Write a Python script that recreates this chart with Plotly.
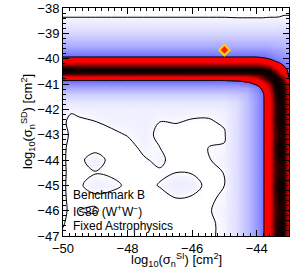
import plotly.graph_objects as go

# grid coordinates (log10 cross sections)
x_si = [-50, -49.75, -49.5, -49, -48.5, -48, -47.5, -47, -46.5, -46, -45.5, -45,
        -44.6, -44.3, -44.0, -43.8, -43.6, -43.45, -43.3, -43.15, -43.0]
y_sd = [-47, -46.5, -46, -45.5, -45, -44.5, -44, -43.5, -43, -42.5, -42, -41.7,
        -41.4, -41.15, -40.95, -40.8, -40.6, -40.45, -40.3, -40.1, -39.95, -39.75,
        -39.5, -39.2, -38.9, -38.6, -38.35, -38.0]

# likelihood values (rows follow y_sd, columns follow x_si)
like = [
    [0.04, 0.03, 0.03, 0.03, 0.03, 0.03, 0.035, 0.04, 0.045, 0.035, 0.045, 0.056, 0.13, 0.22, 0.36, 0.47, 0.72, 0.88, 0.97, 0.93, 0.72],
    [0.055, 0.03, 0.035, 0.035, 0.03, 0.03, 0.035, 0.04, 0.04, 0.03, 0.045, 0.056, 0.13, 0.22, 0.36, 0.47, 0.72, 0.88, 0.99, 0.95, 0.72],
    [0.06, 0.04, 0.05, 0.054, 0.035, 0.035, 0.045, 0.035, 0.035, 0.032, 0.048, 0.058, 0.13, 0.22, 0.36, 0.47, 0.72, 0.87, 0.95, 0.93, 0.72],
    [0.06, 0.035, 0.04, 0.042, 0.04, 0.035, 0.035, 0.04, 0.05, 0.046, 0.045, 0.055, 0.13, 0.22, 0.36, 0.47, 0.72, 0.88, 0.97, 0.94, 0.72],
    [0.06, 0.03, 0.045, 0.066, 0.058, 0.045, 0.04, 0.052, 0.075, 0.065, 0.04, 0.05, 0.13, 0.22, 0.36, 0.47, 0.72, 0.89, 1.0, 0.96, 0.72],
    [0.06, 0.035, 0.04, 0.048, 0.045, 0.038, 0.035, 0.045, 0.05, 0.048, 0.04, 0.051, 0.13, 0.22, 0.36, 0.47, 0.72, 0.87, 0.95, 0.93, 0.72],
    [0.06, 0.03, 0.042, 0.066, 0.04, 0.03, 0.046, 0.058, 0.035, 0.033, 0.048, 0.06, 0.13, 0.22, 0.36, 0.47, 0.72, 0.88, 0.97, 0.94, 0.72],
    [0.06, 0.035, 0.035, 0.038, 0.032, 0.038, 0.058, 0.05, 0.03, 0.028, 0.05, 0.053, 0.13, 0.22, 0.36, 0.47, 0.72, 0.89, 1.0, 0.96, 0.72],
    [0.06, 0.045, 0.035, 0.035, 0.042, 0.052, 0.062, 0.042, 0.035, 0.03, 0.04, 0.045, 0.13, 0.22, 0.36, 0.47, 0.72, 0.87, 0.95, 0.93, 0.72],
    [0.06, 0.035, 0.042, 0.049, 0.058, 0.06, 0.065, 0.05, 0.052, 0.046, 0.045, 0.056, 0.13, 0.22, 0.36, 0.47, 0.72, 0.88, 0.98, 0.95, 0.72],
    [0.062, 0.058, 0.062, 0.065, 0.065, 0.065, 0.066, 0.065, 0.065, 0.062, 0.062, 0.07, 0.13, 0.22, 0.36, 0.47, 0.72, 0.88, 0.97, 0.94, 0.72],
    [0.1, 0.1, 0.1, 0.1, 0.1, 0.1, 0.1, 0.1, 0.1, 0.1, 0.1, 0.1, 0.14, 0.22, 0.36, 0.47, 0.72, 0.88, 0.98, 0.94, 0.72],
    [0.18, 0.18, 0.18, 0.18, 0.18, 0.18, 0.18, 0.18, 0.18, 0.18, 0.18, 0.18, 0.2, 0.25, 0.37, 0.48, 0.74, 0.9, 1.0, 0.94, 0.73],
    [0.3, 0.3, 0.3, 0.3, 0.3, 0.3, 0.3, 0.3, 0.3, 0.3, 0.3, 0.3, 0.3, 0.32, 0.42, 0.56, 0.8, 0.93, 1.0, 0.93, 0.74],
    [0.42, 0.42, 0.42, 0.42, 0.42, 0.42, 0.42, 0.42, 0.42, 0.42, 0.42, 0.42, 0.43, 0.47, 0.57, 0.7, 0.88, 0.97, 1.0, 0.9, 0.7],
    [0.56, 0.56, 0.56, 0.56, 0.56, 0.56, 0.56, 0.56, 0.56, 0.56, 0.56, 0.56, 0.58, 0.62, 0.72, 0.85, 0.95, 1.0, 0.97, 0.85, 0.52],
    [0.9, 0.9, 0.9, 0.9, 0.9, 0.9, 0.9, 0.9, 0.9, 0.9, 0.9, 0.9, 0.9, 0.9, 0.92, 0.95, 1.0, 0.95, 0.85, 0.7, 0.45],
    [1.0, 1.0, 0.98, 1.0, 1.0, 0.99, 1.0, 1.0, 1.0, 0.99, 1.0, 1.0, 1.0, 1.0, 1.0, 0.98, 0.95, 0.85, 0.72, 0.6, 0.44],
    [0.88, 0.88, 0.88, 0.88, 0.88, 0.88, 0.88, 0.88, 0.88, 0.88, 0.88, 0.88, 0.88, 0.88, 0.88, 0.86, 0.8, 0.7, 0.6, 0.5, 0.42],
    [0.68, 0.68, 0.68, 0.68, 0.68, 0.68, 0.68, 0.68, 0.68, 0.68, 0.68, 0.68, 0.68, 0.68, 0.68, 0.64, 0.57, 0.51, 0.46, 0.42, 0.38],
    [0.51, 0.51, 0.51, 0.51, 0.51, 0.51, 0.51, 0.51, 0.51, 0.51, 0.51, 0.51, 0.51, 0.51, 0.51, 0.49, 0.45, 0.42, 0.39, 0.36, 0.33],
    [0.4, 0.4, 0.4, 0.4, 0.4, 0.4, 0.4, 0.4, 0.4, 0.4, 0.4, 0.4, 0.4, 0.4, 0.4, 0.4, 0.38, 0.36, 0.34, 0.32, 0.3],
    [0.29, 0.29, 0.29, 0.29, 0.29, 0.29, 0.29, 0.29, 0.29, 0.29, 0.29, 0.29, 0.29, 0.29, 0.29, 0.29, 0.28, 0.27, 0.26, 0.25, 0.25],
    [0.2, 0.2, 0.2, 0.2, 0.2, 0.2, 0.2, 0.2, 0.2, 0.2, 0.2, 0.2, 0.2, 0.2, 0.2, 0.2, 0.2, 0.2, 0.2, 0.2, 0.2],
    [0.13, 0.13, 0.13, 0.13, 0.13, 0.13, 0.13, 0.13, 0.13, 0.13, 0.13, 0.13, 0.13, 0.13, 0.13, 0.13, 0.13, 0.13, 0.14, 0.14, 0.14],
    [0.08, 0.08, 0.08, 0.08, 0.08, 0.08, 0.08, 0.08, 0.08, 0.08, 0.08, 0.08, 0.08, 0.08, 0.08, 0.08, 0.08, 0.08, 0.085, 0.085, 0.085],
    [0.048, 0.048, 0.048, 0.048, 0.048, 0.048, 0.048, 0.048, 0.048, 0.048, 0.048, 0.048, 0.045, 0.045, 0.045, 0.045, 0.048, 0.048, 0.05, 0.052, 0.052],
    [0.03, 0.03, 0.03, 0.03, 0.03, 0.03, 0.03, 0.03, 0.03, 0.03, 0.03, 0.03, 0.03, 0.03, 0.03, 0.03, 0.035, 0.035, 0.04, 0.04, 0.04],
]

contour_levels = [0.05, 0.5]
benchmark_x = [-45.0]
benchmark_y = [-39.66]
label_lines = ["Benchmark B", "IC86 (W<sup>+</sup>W<sup>\u2212</sup>)", "Fixed Astrophysics"]
label_y = [-45.40, -46.01, -46.61]
x_title = "log<sub>10</sub>(\u03c3<sub>n</sub><sup>SI</sup>) [cm<sup>2</sup>]"
y_title = "log<sub>10</sub>(\u03c3<sub>n</sub><sup>SD</sup>) [cm<sup>2</sup>]"

cscale = [
    [0.0, '#ffffff'], [0.045, '#ffffff'], [0.06, '#f1f1ff'], [0.12, '#e0e0ff'],
    [0.2, '#c6c6ff'], [0.3, '#a8a8ff'], [0.4, '#8a8aff'], [0.49, '#7070ff'],
    [0.5, '#ff0000'], [0.72, '#f20000'], [0.84, '#900000'], [0.94, '#200000'],
    [1.0, '#000000'],
]

fig = go.Figure()
fig.add_trace(go.Heatmap(x=x_si, y=y_sd, z=like, zmin=0, zmax=1, colorscale=cscale,
                         zsmooth='best', showscale=False, hoverinfo='skip'))
fig.add_trace(go.Contour(x=x_si, y=y_sd, z=like, showscale=False, hoverinfo='skip',
                         autocontour=False,
                         contours=dict(start=contour_levels[0], end=contour_levels[1],
                                       size=contour_levels[1] - contour_levels[0],
                                       coloring='none'),
                         line=dict(color='black', width=1, smoothing=1)))
fig.add_trace(go.Scatter(x=benchmark_x, y=benchmark_y, mode='markers', hoverinfo='skip',
                         marker=dict(symbol='diamond', size=8, color='#ff2000',
                                     line=dict(color='#ffd000', width=2))))

font_family = "Liberation Sans, Arial, sans-serif"
for txt, yy in zip(label_lines, label_y):
    fig.add_annotation(x=-49.74, y=yy, xref='x', yref='y', text=txt, showarrow=False,
                       xanchor='left', yanchor='middle',
                       font=dict(size=12, color='black', family=font_family))

fig.add_annotation(x=0.5, y=0, xref='paper', yref='paper', yshift=-24, text=x_title,
                   showarrow=False, xanchor='center', yanchor='middle',
                   font=dict(size=13, color='black', family=font_family))
fig.add_annotation(x=0, y=0.5, xref='paper', yref='paper', xshift=-35, text=y_title,
                   showarrow=False, xanchor='center', yanchor='middle', textangle=-90,
                   font=dict(size=13, color='black', family=font_family))

axis_common = dict(showline=True, linecolor='black', linewidth=1, mirror='allticks',
                   ticks='inside', ticklen=6, tickcolor='black', showgrid=False,
                   zeroline=False, automargin=False,
                   tickfont=dict(size=13, color='black', family=font_family),
                   minor=dict(ticks='inside', ticklen=3, dtick=0.2, tickcolor='black',
                              showgrid=False))

fig.update_xaxes(range=[-50, -43], dtick=2, tick0=-50, **axis_common)
fig.update_yaxes(range=[-47, -38], dtick=1, tick0=-47, **axis_common)

fig.update_layout(width=299, height=268, margin=dict(l=63, r=10, t=8, b=32, autoexpand=False),
                  paper_bgcolor='white', plot_bgcolor='white', showlegend=False,
                  font=dict(family=font_family, color='black'))

fig.write_html("out.html", config={'displayModeBar': False},
               post_script="document.body.style.margin='0px';")
